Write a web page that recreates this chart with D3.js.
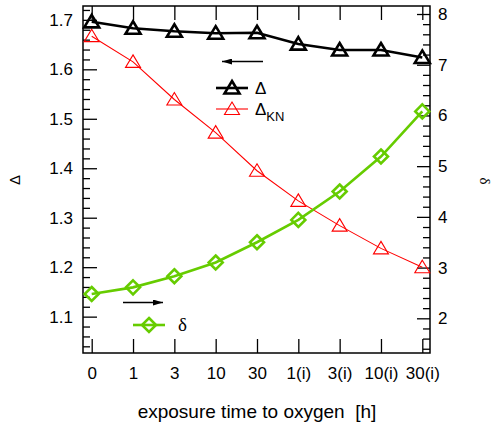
<!DOCTYPE html>
<html>
<head>
<meta charset="utf-8">
<script src="https://cdn.jsdelivr.net/npm/d3@7"></script>
<style>
  body { margin: 0; background: #fff; }
  svg { font-family: "Liberation Sans", Arial, sans-serif; }
  .axis path { display: none; }
  .axis line { stroke: #000; stroke-width: 1.3; }
  .axis text { font-size: 17px; fill: #000; }
</style>
</head>
<body>
<div class="graph"></div>
<script>
var categories = ['0', '1', '3', '10', '30', '1(i)', '3(i)', '10(i)', '30(i)'];
var deltaValues = [1.696, 1.683, 1.677, 1.673, 1.674, 1.651, 1.639, 1.639, 1.624];
var deltaKNValues = [1.667, 1.615, 1.539, 1.472, 1.395, 1.334, 1.284, 1.238, 1.200];
var smallDeltaValues = [2.48, 2.61, 2.83, 3.10, 3.50, 3.94, 4.50, 5.19, 6.08];
var leftTicks = [1.1, 1.2, 1.3, 1.4, 1.5, 1.6, 1.7];
var rightTicks = [2, 3, 4, 5, 6, 7, 8];

var width = 495, height = 425;
var frame = {left: 83, right: 430, top: 6, bottom: 353};

var x = d3.scalePoint().domain(categories).range([91.7, 422.3]);
var yL = d3.scaleLinear().domain([1.0265, 1.728]).range([frame.bottom, frame.top]);
var yR = d3.scaleLinear().domain([1.316, 8.158]).range([frame.bottom, frame.top]);

var svg = d3.select('.graph')
            .append('svg')
            .attr('width', width)
            .attr('height', height);

// minor ticks
var leftMinor = d3.range(1.04, 1.725, 0.02).filter(function(v) { return Math.abs(v * 10 - Math.round(v * 10)) > 0.01; });
var rightMinor = d3.range(1.4, 8.1, 0.2).filter(function(v) { return Math.abs(v - Math.round(v)) > 0.01; });

svg.append('g').attr('class', 'axis')
   .attr('transform', 'translate(' + frame.left + ',0)')
   .call(d3.axisLeft(yL).tickValues(leftMinor).tickSize(-7).tickFormat(''));
svg.append('g').attr('class', 'axis')
   .attr('transform', 'translate(' + frame.left + ',0)')
   .call(d3.axisLeft(yL).tickValues(leftTicks).tickSize(-14).tickPadding(10).tickFormat(d3.format('.1f')));

svg.append('g').attr('class', 'axis')
   .attr('transform', 'translate(' + frame.right + ',0)')
   .call(d3.axisRight(yR).tickValues(rightMinor).tickSize(-7).tickFormat(''));
svg.append('g').attr('class', 'axis')
   .attr('transform', 'translate(' + frame.right + ',0)')
   .call(d3.axisRight(yR).tickValues(rightTicks).tickSize(-13).tickPadding(8).tickFormat(d3.format('d')));

svg.append('g').attr('class', 'axis')
   .attr('transform', 'translate(0,' + frame.bottom + ')')
   .call(d3.axisBottom(x).tickSize(-14).tickPadding(14));
svg.append('g').attr('class', 'axis')
   .attr('transform', 'translate(0,' + frame.top + ')')
   .call(d3.axisTop(x).tickSize(-14).tickFormat(''));

svg.append('rect')
   .attr('x', frame.left).attr('y', frame.top)
   .attr('width', frame.right - frame.left).attr('height', frame.bottom - frame.top)
   .attr('fill', 'none').attr('stroke', '#000').attr('stroke-width', 1.5);

// axis titles
svg.append('text')
   .attr('transform', 'translate(' + 257 + ',' + 418 + ')')
   .attr('text-anchor', 'middle')
   .style('font-size', '19px')
   .style('white-space', 'pre')
   .text('exposure time to oxygen  [h]');

svg.append('text')
   .attr('transform', 'translate(20,180) rotate(-90)')
   .attr('text-anchor', 'middle')
   .style('font-size', '15px')
   .text('Δ');

svg.append('text')
   .attr('transform', 'translate(480,181) rotate(90)')
   .attr('text-anchor', 'middle')
   .style('font-family', '"Liberation Serif", serif')
   .style('font-size', '15px')
   .text('δ');

function trianglePath(cx, cy) {
  return 'M' + cx + ',' + (cy - 7) + 'L' + (cx + 7.5) + ',' + (cy + 5.5) + 'L' + (cx - 7.5) + ',' + (cy + 5.5) + 'Z';
}
function diamondPath(cx, cy) {
  return 'M' + cx + ',' + (cy - 7) + 'L' + (cx + 7) + ',' + cy + 'L' + cx + ',' + (cy + 7) + 'L' + (cx - 7) + ',' + cy + 'Z';
}

function series(values, scale, color, lw, shape) {
  var pts = values.map(function(v, i) { return [x(categories[i]), scale(v)]; });
  svg.append('path')
     .attr('d', d3.line()(pts))
     .attr('fill', 'none').attr('stroke', color).attr('stroke-width', lw);
  svg.selectAll(null)
     .data(pts)
     .enter()
     .append('path')
     .attr('d', function(p) { return shape(p[0], p[1]); })
     .attr('fill', 'none').attr('stroke', color).attr('stroke-width', lw);
}

series(deltaKNValues, yL, '#ff0000', 1.1, trianglePath);
series(smallDeltaValues, yR, '#66cc00', 2.6, diamondPath);
series(deltaValues, yL, '#000', 2.6, trianglePath);

// legend
var defs = svg.append('defs');
defs.append('marker')
    .attr('id', 'head')
    .attr('viewBox', '0 0 10 6')
    .attr('refX', 10).attr('refY', 3)
    .attr('markerWidth', 12).attr('markerHeight', 6)
    .attr('markerUnits', 'userSpaceOnUse')
    .attr('orient', 'auto')
    .append('path').attr('d', 'M0,0L10,3L0,6Z').attr('fill', '#000');

svg.append('line')
   .attr('x1', 263).attr('y1', 61.5).attr('x2', 222).attr('y2', 61.5)
   .attr('stroke', '#000').attr('stroke-width', 1.3).attr('marker-end', 'url(#head)');
svg.append('line')
   .attr('x1', 123).attr('y1', 302.5).attr('x2', 163).attr('y2', 302.5)
   .attr('stroke', '#000').attr('stroke-width', 1.3).attr('marker-end', 'url(#head)');

var legendItems = [
  {color: '#000', lw: 2.6, shape: trianglePath, x: 216, y: 88, len: 32},
  {color: '#ff0000', lw: 1.1, shape: trianglePath, x: 216, y: 109, len: 32},
  {color: '#66cc00', lw: 2.6, shape: diamondPath, x: 133, y: 325, len: 32}
];
legendItems.forEach(function(d) {
  svg.append('line')
     .attr('x1', d.x).attr('x2', d.x + d.len).attr('y1', d.y).attr('y2', d.y)
     .attr('stroke', d.color).attr('stroke-width', d.lw);
  svg.append('path')
     .attr('d', d.shape(d.x + d.len / 2, d.y))
     .attr('fill', 'none').attr('stroke', d.color).attr('stroke-width', d.lw);
});

svg.append('text').attr('x', 255).attr('y', 94).style('font-size', '17px').text('Δ');
var kn = svg.append('text').attr('x', 255).attr('y', 115).style('font-size', '17px');
kn.append('tspan').text('Δ');
kn.append('tspan').attr('dy', 6).style('font-size', '13px').text('KN');
svg.append('text').attr('x', 178).attr('y', 331)
   .style('font-family', '"Liberation Serif", serif').style('font-size', '19px').text('δ');
</script>
</body>
</html>
